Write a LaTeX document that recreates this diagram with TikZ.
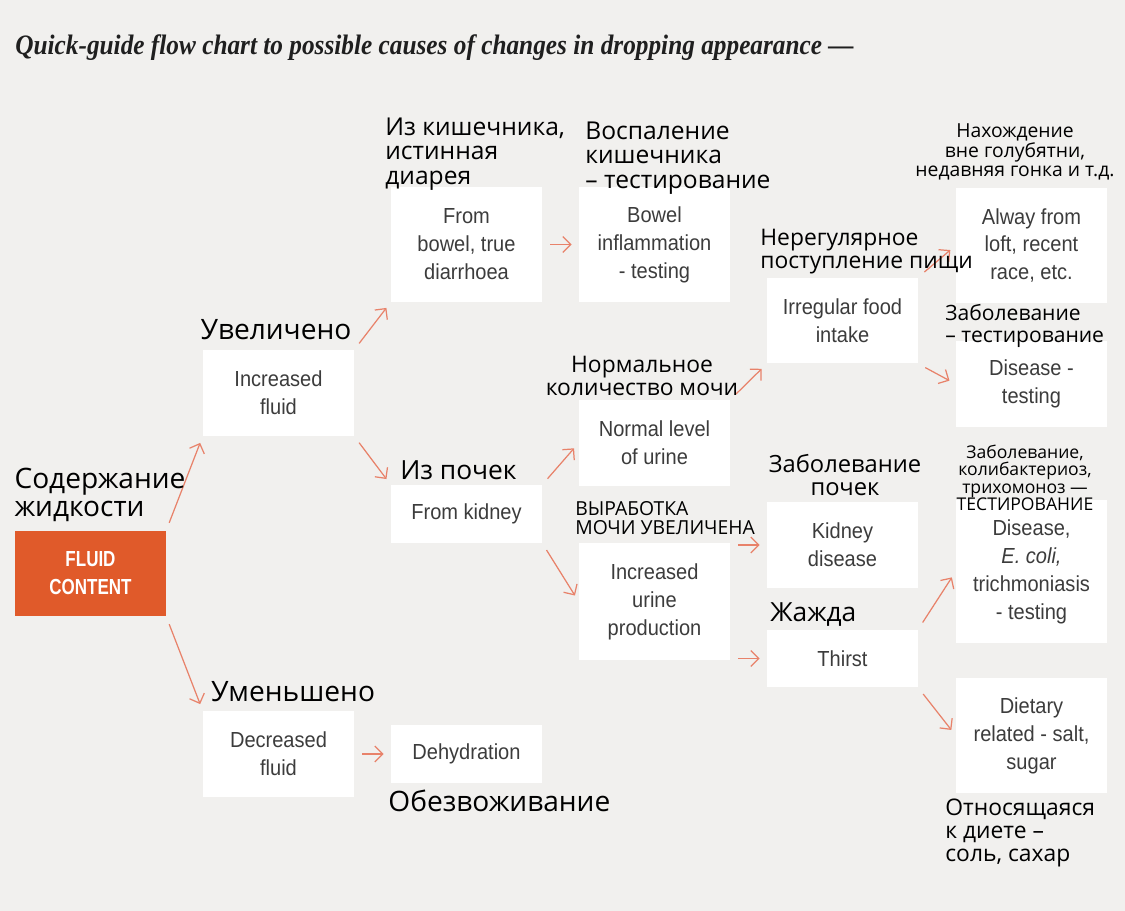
\documentclass[tikz,border=0pt]{standalone}
\usepackage{fontspec}
\usetikzlibrary{arrows.meta}
\setmainfont{Liberation Sans}
\newfontfamily\boxfont[FakeStretch=0.92]{Liberation Sans}
\newfontfamily\headfont[FakeStretch=0.78]{Liberation Sans}
\newfontfamily\handfont{Open Sans}
\newfontfamily\titlefont[FakeStretch=0.9]{Liberation Serif}
\definecolor{paper}{HTML}{F1F0EE}
\definecolor{rust}{HTML}{E05A2A}
\definecolor{salmon}{HTML}{E8826A}
\definecolor{ink}{HTML}{3C3C3C}

\begin{document}
\begin{tikzpicture}[x=0.02cm,y=-0.02cm,>={Straight Barb[length=4.5pt,width=9pt]},
  box/.style={fill=white,minimum width=3.02cm,minimum height=#1,inner sep=2pt,align=center,
    text=ink,font=\boxfont\fontsize{12.4}{15.9}\selectfont},
  box/.default=1.72cm,
  hand/.style={font=\handfont\fontsize{#1}{#1}\selectfont,text=black,inner sep=0pt},
  hand/.default=14,
  arr/.style={->,salmon,line width=0.7pt,shorten <=4.5pt,shorten >=4pt}]
  \fill[paper] (0,0) rectangle (1125,911);
  \useasboundingbox (0,0) rectangle (1125,911);
  \node[anchor=west,inner sep=0pt,text=black!88,
    font=\titlefont\bfseries\itshape\fontsize{16}{18}\selectfont] (title) at (15,48)
    {Quick-guide flow chart to possible causes of changes in dropping appearance —};

  \node[box,fill=rust,text=white,font=\headfont\bfseries\fontsize{12.4}{15.9}\selectfont]
    (fluid) at (90.5,573.5) {FLUID\\CONTENT};
  \node[box] (incr) at (278.5,393) {Increased\\fluid};
  \node[box] (decr) at (278.5,754) {Decreased\\fluid};
  \node[box=2.3cm] (bowel) at (466.5,244.5) {From\\bowel, true\\diarrhoea};
  \node[box=1.16cm] (kidney) at (466.5,514) {From kidney};
  \node[box=1.16cm] (dehyd) at (466.5,754) {Dehydration};
  \node[box=2.3cm] (infl) at (654.5,244.5) {Bowel\\inflammation\\- testing};
  \node[box] (normal) at (654.5,443) {Normal level\\of urine};
  \node[box=2.34cm] (iurine) at (654.5,601.5) {Increased\\urine\\production};
  \node[box] (irr) at (842.5,320.5) {Irregular food\\intake};
  \node[box] (kdis) at (842.5,545) {Kidney\\disease};
  \node[box=1.16cm] (thirst) at (842.5,658.5) {Thirst};
  \node[box=2.3cm] (alway) at (1031.5,245.5) {Alway from\\loft, recent\\race, etc.};
  \node[box] (dist) at (1031.5,384) {Disease -\\testing};
  \node[box=2.86cm] (ecoli) at (1031.5,571.5) {Disease,\\\textit{E. coli,}\\trichmoniasis\\- testing};
  \node[box=2.3cm] (diet) at (1031.5,735.5) {Dietary\\related - salt,\\sugar};

  \foreach \a/\b in {fluid.north east/incr.south west, fluid.south east/decr.north west,
    incr.north east/bowel.south west, incr.south east/kidney.north west, decr/dehyd,
    bowel/infl, kidney.north east/normal.west, kidney.south east/iurine.west,
    normal.north east/irr.south west, iurine.east |- kdis/kdis.west,
    iurine.east |- thirst/thirst.west, irr.north east/alway.west,
    irr.south east/dist.west, thirst.north east/ecoli.west, thirst.south east/diet.west}
    \draw[arr] (\a) -- (\b);

  \node[hand=16,align=left] (lfluid) at (100,495) {Содержание\\жидкости};
  \node[hand=16] (lincr) at (276,330) {Увеличено};
  \node[hand=16] (ldecr) at (293,692) {Уменьшено};
  \node[hand=14,align=left,anchor=west] (lbowel) at (385,154) {Из кишечника,\\истинная\\диарея};
  \node[hand=14,align=left,anchor=west] (linfl) at (585,158) {Воспаление\\кишечника\\– тестирование};
  \node[hand=13,align=left,anchor=west] (lirr) at (760,252) {Нерегулярное\\поступление пищи};
  \node[hand=11,align=center] (lalway) at (1015,152) {Нахождение\\вне голубятни,\\недавняя гонка и т.д.};
  \node[hand=12,align=left,anchor=west] (ldist) at (945,326) {Заболевание\\– тестирование};
  \node[hand=13,align=center] (lnormal) at (642,376) {Нормальное\\количество мочи};
  \node[hand=15,anchor=west] (lkidney) at (400,470) {Из почек};
  \node[hand=11,align=left,anchor=west] (liurine) at (575,518) {ВЫРАБОТКА\\МОЧИ УВЕЛИЧЕНА};
  \node[hand=13.5,align=center] (lkdis) at (845,475) {Заболевание\\почек};
  \node[hand=10,align=center] (lecoli) at (1025,478) {Заболевание,\\колибактериоз,\\трихомоноз —\\ТЕСТИРОВАНИЕ};
  \node[hand=15,anchor=west] (lthirst) at (770,615) {Жажда};
  \node[hand=16,anchor=west] (ldehyd) at (388,801) {Обезвоживание};
  \node[hand=13,align=left,anchor=west] (ldiet) at (945,833) {Относящаяся\\к диете –\\соль, сахар};
\end{tikzpicture}
\end{document}
